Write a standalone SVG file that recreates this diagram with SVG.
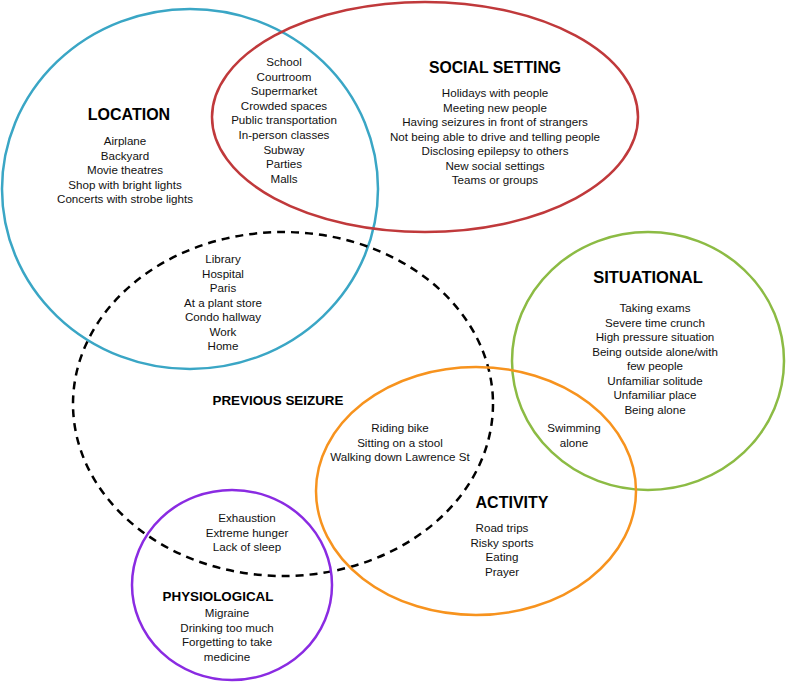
<svg xmlns="http://www.w3.org/2000/svg" width="787" height="682" viewBox="0 0 787 682">
<style>
.c{fill:none;stroke-width:2.5}
.h{font-family:"Liberation Sans",Arial,sans-serif;font-weight:bold;font-size:16px;fill:#000;text-anchor:middle}
.t{font-family:"Liberation Sans",Arial,sans-serif;font-size:11.6px;fill:#111;text-anchor:middle}
</style>
<rect width="787" height="682" fill="#fff"/>
<g id="location">
<ellipse class="c" cx="190" cy="189" rx="188" ry="180" stroke="#3aa6c5"/>
<text class="h" x="129" y="120">LOCATION</text>
<text class="t"><tspan x="125" y="145">Airplane</tspan><tspan x="125" y="160">Backyard</tspan><tspan x="125" y="174">Movie theatres</tspan><tspan x="125" y="189">Shop with bright lights</tspan><tspan x="125" y="203">Concerts with strobe lights</tspan></text>
</g>
<g id="social-setting">
<ellipse class="c" cx="425" cy="117" rx="213" ry="115" stroke="#c0393b"/>
<text class="h" x="495" y="73" style="font-size:15.8px">SOCIAL SETTING</text>
<text class="t"><tspan x="495" y="97">Holidays with people</tspan><tspan x="495" y="111.5">Meeting new people</tspan><tspan x="495" y="126">Having seizures in front of strangers</tspan><tspan x="495" y="140.5">Not being able to drive and telling people</tspan><tspan x="495" y="155">Disclosing epilepsy to others</tspan><tspan x="495" y="170">New social settings</tspan><tspan x="495" y="184">Teams or groups</tspan></text>
</g>
<g id="location-social">
<text class="t"><tspan x="284" y="66">School</tspan><tspan x="284" y="80.5">Courtroom</tspan><tspan x="284" y="95">Supermarket</tspan><tspan x="284" y="110">Crowded spaces</tspan><tspan x="284" y="124">Public transportation</tspan><tspan x="284" y="139">In-person classes</tspan><tspan x="284" y="154">Subway</tspan><tspan x="284" y="168">Parties</tspan><tspan x="284" y="183">Malls</tspan></text>
</g>
<g id="previous-seizure">
<ellipse class="c" cx="283" cy="404" rx="210" ry="172" stroke="#000" stroke-width="2" stroke-dasharray="8 6"/>
<text class="h" x="278" y="405" style="font-size:13.4px">PREVIOUS SEIZURE</text>
</g>
<g id="location-previous">
<text class="t"><tspan x="223" y="263">Library</tspan><tspan x="223" y="278">Hospital</tspan><tspan x="223" y="292">Paris</tspan><tspan x="223" y="307">At a plant store</tspan><tspan x="223" y="321">Condo hallway</tspan><tspan x="223" y="336">Work</tspan><tspan x="223" y="350">Home</tspan></text>
</g>
<g id="situational">
<ellipse class="c" cx="648" cy="361" rx="136" ry="129" stroke="#8cbb44"/>
<text class="h" x="648" y="283" style="font-size:16.5px">SITUATIONAL</text>
<text class="t"><tspan x="655" y="312">Taking exams</tspan><tspan x="655" y="326.5">Severe time crunch</tspan><tspan x="655" y="341">High pressure situation</tspan><tspan x="655" y="355.5">Being outside alone/with</tspan><tspan x="655" y="370">few people</tspan><tspan x="655" y="384.5">Unfamiliar solitude</tspan><tspan x="655" y="399">Unfamiliar place</tspan><tspan x="655" y="413.5">Being alone</tspan></text>
</g>
<g id="activity">
<ellipse class="c" cx="476" cy="491" rx="160" ry="124" stroke="#f7931e"/>
<text class="h" x="512" y="508">ACTIVITY</text>
<text class="t"><tspan x="502" y="532">Road trips</tspan><tspan x="502" y="546.5">Risky sports</tspan><tspan x="502" y="561">Eating</tspan><tspan x="502" y="575.5">Prayer</tspan></text>
</g>
<g id="previous-activity">
<text class="t"><tspan x="400" y="432">Riding bike</tspan><tspan x="400" y="446.5">Sitting on a stool</tspan><tspan x="400" y="461">Walking down Lawrence St</tspan></text>
</g>
<g id="situational-activity">
<text class="t"><tspan x="574" y="432">Swimming</tspan><tspan x="574" y="446.5">alone</tspan></text>
</g>
<g id="physiological">
<ellipse class="c" cx="232" cy="585" rx="100" ry="95" stroke="#8a2be2"/>
<text class="h" x="218" y="601" style="font-size:13.4px">PHYSIOLOGICAL</text>
<text class="t"><tspan x="227" y="617">Migraine</tspan><tspan x="227" y="631.5">Drinking too much</tspan><tspan x="227" y="646">Forgetting to take</tspan><tspan x="227" y="660.5">medicine</tspan></text>
</g>
<g id="previous-physiological">
<text class="t"><tspan x="247" y="522">Exhaustion</tspan><tspan x="247" y="536.5">Extreme hunger</tspan><tspan x="247" y="551">Lack of sleep</tspan></text>
</g>
<g id="connectors"></g>
</svg>
